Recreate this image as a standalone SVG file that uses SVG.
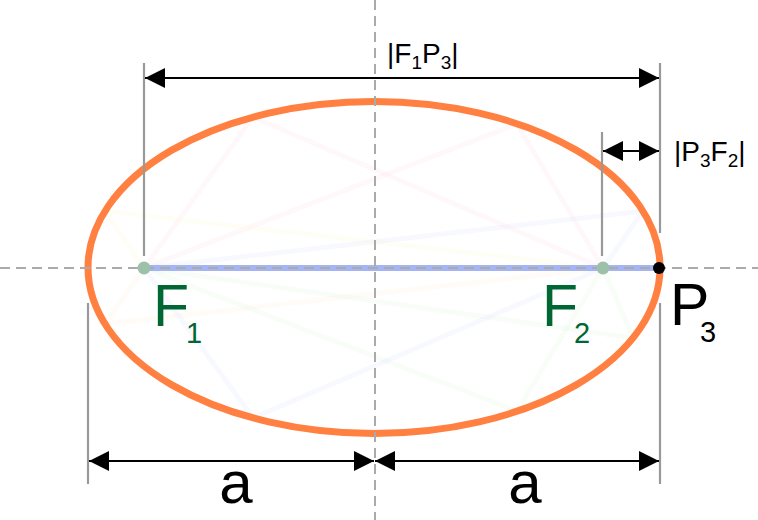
<svg xmlns="http://www.w3.org/2000/svg" width="758" height="520" viewBox="0 0 758 520">
<defs>
<style>
.dim{stroke:#999;stroke-width:2.2;fill:none}
.arr{stroke:#000;stroke-width:2;fill:none;marker-start:url(#ah);marker-end:url(#ah)}
.axis{stroke:#aaa;stroke-width:2;stroke-dasharray:10 6;fill:none}
.ray{stroke-width:5;fill:none;stroke-opacity:0.045}
.lbl{font-family:"Liberation Sans",Arial,sans-serif}
.pt{font-family:"Liberation Sans",Arial,sans-serif;fill:#006633}
</style>
<marker id="ah" markerUnits="userSpaceOnUse" markerWidth="20" markerHeight="20" refX="20" refY="10" orient="auto-start-reverse">
<path d="M0,0 L20,10 L0,20 Z" fill="#000"/>
</marker>
</defs>
<rect width="758" height="520" fill="#fff"/>
<g id="rays">
<polyline class="ray" stroke="#ff66aa" points="144,268 253,117 603,268"/>
<polyline class="ray" stroke="#ff66aa" points="144,268 517,124 603,268"/>
<polyline class="ray" stroke="#6677ff" points="144,268 643,211 603,268"/>
<polyline class="ray" stroke="#ff9944" points="144,268 105,324 603,268"/>
<polyline class="ray" stroke="#6677ff" points="144,268 253,418 603,268"/>
<polyline class="ray" stroke="#66cc66" points="144,268 517,411 603,268"/>
<polyline class="ray" stroke="#dddd33" points="144,268 105,211 603,268"/>
<polyline class="ray" stroke="#66cc66" points="144,268 633,338 603,268"/>
</g>
<g id="ellipse">
<ellipse cx="374" cy="267.5" rx="286" ry="166" fill="none" stroke="#ff8040" stroke-width="7"/>
</g>
<g id="segment">
<line x1="144" y1="268" x2="659" y2="268" stroke="#a4b4f4" stroke-width="6"/>
</g>
<g id="axes">
<line class="axis" x1="0" y1="268" x2="758" y2="268"/>
<line class="axis" x1="375" y1="0" x2="375" y2="520"/>
</g>
<g id="connectors">
<line class="dim" x1="144" y1="63" x2="144" y2="256"/>
<line class="dim" x1="660" y1="63" x2="660" y2="233"/>
<line class="dim" x1="602" y1="132" x2="602" y2="256"/>
<line class="dim" x1="88" y1="303" x2="88" y2="484"/>
<line class="dim" x1="660" y1="303" x2="660" y2="484"/>
<line class="arr" x1="145" y1="78" x2="659" y2="78"/>
<line class="arr" x1="603" y1="151" x2="659" y2="151"/>
<line class="arr" x1="89" y1="461" x2="374" y2="461"/>
<line class="arr" x1="375" y1="461" x2="659" y2="461"/>
</g>
<g id="F1">
<circle cx="144" cy="268" r="6.5" fill="#9cc0a8"/>
<text class="pt" x="153" y="326" font-size="59">F<tspan x="186" dy="17" font-size="29">1</tspan></text>
</g>
<g id="F2">
<circle cx="603" cy="268" r="6.5" fill="#9cc0a8"/>
<text class="pt" x="542" y="326" font-size="59">F<tspan x="574" dy="17" font-size="29">2</tspan></text>
</g>
<g id="P3">
<circle cx="659" cy="268" r="6" fill="#000"/>
<text class="lbl" x="670" y="325" font-size="59">P<tspan x="700" dy="17" font-size="29">3</tspan></text>
</g>
<g id="labels">
<text class="lbl" x="387" y="63" font-size="28">|F<tspan font-size="19" dy="6">1</tspan><tspan dy="-6">P</tspan><tspan font-size="19" dy="6">3</tspan><tspan dy="-6">|</tspan></text>
<text class="lbl" x="674" y="161" font-size="28">|P<tspan font-size="19" dy="6">3</tspan><tspan dy="-6">F</tspan><tspan font-size="19" dy="6">2</tspan><tspan dy="-6">|</tspan></text>
<text class="lbl" x="236" y="503" font-size="60" text-anchor="middle">a</text>
<text class="lbl" x="525" y="503" font-size="60" text-anchor="middle">a</text>
</g>
</svg>
